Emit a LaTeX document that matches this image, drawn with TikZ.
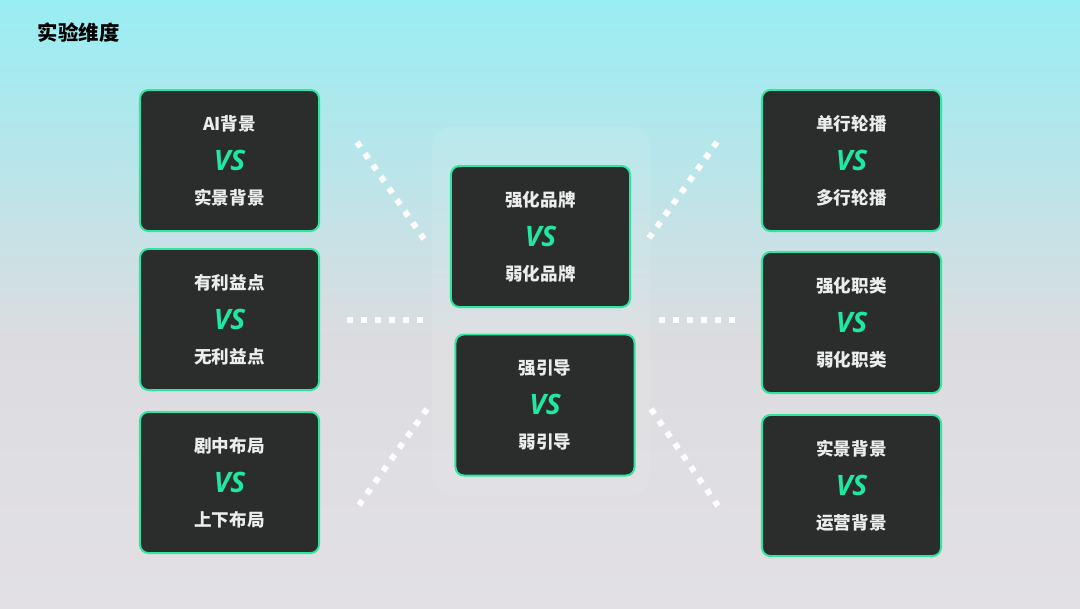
\documentclass[tikz,border=0pt]{standalone}
\usepackage{fontspec}
\usepackage{tikz}
\newfontfamily\cjkfont{Noto Sans CJK SC}
\newfontfamily\vsfont{Open Sans}
\definecolor{bgtop}{RGB}{152,238,243}
\definecolor{bgmid}{RGB}{220,220,224}
\definecolor{bgbot}{RGB}{226,224,228}
\definecolor{boxfill}{RGB}{43,45,45}
\definecolor{boxline}{RGB}{46,230,160}
\definecolor{vsgreen}{RGB}{32,232,160}
\definecolor{boxtext}{RGB}{236,236,236}

\begin{document}
\begin{tikzpicture}[
  x=0.025cm, y=-0.025cm,
  vsbox/.style={draw=boxline, line width=1.4pt, rounded corners=6pt, fill=boxfill,
    minimum width=4.475cm, minimum height=3.525cm, align=center, text=boxtext,
    font=\cjkfont\bfseries\fontsize{12.5}{26.3}\selectfont},
  dots/.style={white, line width=0.15cm, dash pattern=on 0.15cm off 0.2cm}
]
\newcommand{\vs}{\raisebox{-2pt}{\vsfont\bfseries\itshape\fontsize{20}{26.3}\selectfont\color{vsgreen}VS}}

% Background
\shade[top color=bgmid, bottom color=bgbot] (0,339) rectangle (1080,608);
\shade[top color=bgtop, bottom color=bgmid] (0,0) rectangle (1080,340);
\useasboundingbox (0,0) rectangle (1080,608);

% Title
\node[anchor=west, font=\cjkfont\bfseries\fontsize{14.5}{17}\selectfont] (title) at (33,33) {实验维度};

% Faint panel behind the middle column
\node[draw=none, fill=white, fill opacity=0.09, rounded corners=14pt,
  minimum width=5.45cm, minimum height=9.2cm] (panel) at (541,311) {};

% Left column
\node[vsbox] (left1) at (229.5,160.5) {AI背景\\\vs\\实景背景};
\node[vsbox] (left2) at (229.5,319.5) {有利益点\\\vs\\无利益点};
\node[vsbox] (left3) at (229.5,482.5) {剧中布局\\\vs\\上下布局};

% Middle column
\node[vsbox] (mid1) at (540.5,236.5) {强化品牌\\\vs\\弱化品牌};
\node[vsbox] (mid2) at (545,405) {强引导\\\vs\\弱引导};

% Right column
\node[vsbox] (right1) at (851.5,160.5) {单行轮播\\\vs\\多行轮播};
\node[vsbox] (right2) at (851.5,322.5) {强化职类\\\vs\\弱化职类};
\node[vsbox] (right3) at (851.5,485.5) {实景背景\\\vs\\运营背景};

% Dotted rays
\coordinate (ula) at (357,142);  \coordinate (ulb) at (424,239);
\coordinate (mla) at (347,320);  \coordinate (mlb) at (423,320);
\coordinate (lla) at (427,409);  \coordinate (llb) at (359,505);
\coordinate (ura) at (717,142);  \coordinate (urb) at (649,238);
\coordinate (mra) at (659,320);  \coordinate (mrb) at (735,320);
\coordinate (lra) at (651,409);  \coordinate (lrb) at (718,506);
\draw[dots] (ula) -- (ulb);
\draw[dots] (mla) -- (mlb);
\draw[dots] (lla) -- (llb);
\draw[dots] (ura) -- (urb);
\draw[dots] (mra) -- (mrb);
\draw[dots] (lra) -- (lrb);

\end{tikzpicture}
\end{document}
